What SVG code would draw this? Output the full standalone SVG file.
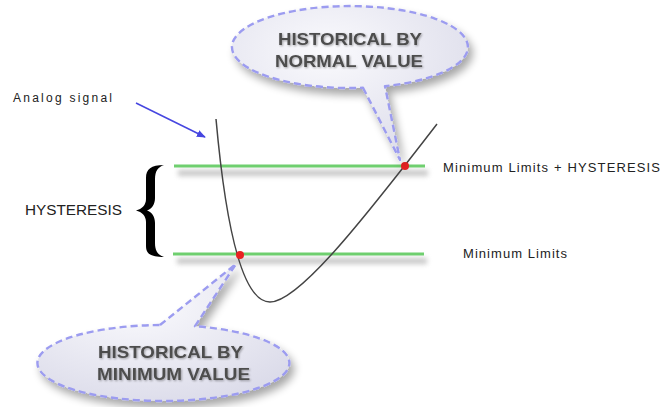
<svg xmlns="http://www.w3.org/2000/svg" width="664" height="407" viewBox="0 0 664 407">
  <style>
    .lbl { font-family: "Liberation Sans", Arial, sans-serif; fill: #222; }
    .callout-shape { fill: url(#bubbleFill); stroke: #9c9cf0; stroke-width: 2.4; stroke-dasharray: 7 4; stroke-linejoin: round; }
    .callout-text { font-family: "Liberation Sans", Arial, sans-serif; font-weight: bold; font-size: 17px; fill: #4d4d4d; }
    .limit { stroke: #6fcf6f; stroke-width: 3; fill: none; }
    .limit-shadow { fill: #9a9a9a; opacity: 0.55; }
    .dot { fill: #e82222; }
  </style>
  <defs>
    <radialGradient id="bubbleFill" cx="0.4" cy="0.3" r="0.75">
      <stop offset="0" stop-color="#fafafd"/>
      <stop offset="1" stop-color="#dcdcea"/>
    </radialGradient>
    <filter id="soft" x="-10%" y="-100%" width="120%" height="300%">
      <feGaussianBlur stdDeviation="2.5"/>
    </filter>
    <filter id="bubbleShadow" x="-20%" y="-20%" width="140%" height="150%">
      <feGaussianBlur in="SourceAlpha" stdDeviation="4"/>
      <feOffset dx="4" dy="6" result="b"/>
      <feComponentTransfer><feFuncA type="linear" slope="0.35"/></feComponentTransfer>
      <feMerge><feMergeNode/><feMergeNode in="SourceGraphic"/></feMerge>
    </filter>
    <filter id="textHalo" x="-5%" y="-30%" width="110%" height="160%">
      <feGaussianBlur in="SourceAlpha" stdDeviation="1"/>
      <feOffset dx="1" dy="1"/>
      <feComponentTransfer><feFuncA type="linear" slope="0.35"/></feComponentTransfer>
      <feMerge><feMergeNode/><feMergeNode in="SourceGraphic"/></feMerge>
    </filter>
    <marker id="arrowBlue" viewBox="0 0 10 10" refX="9" refY="5" markerWidth="6" markerHeight="6" orient="auto">
      <path d="M0,1 L10,5 L0,9 z" fill="#4646e0"/>
    </marker>
  </defs>

  <!-- limit lines with soft shadows -->
  <g id="limit-upper">
    <rect class="limit-shadow" x="178" y="170" width="250" height="6" filter="url(#soft)"/>
    <line class="limit" x1="174" y1="166" x2="425" y2="166"/>
  </g>
  <g id="limit-lower">
    <rect class="limit-shadow" x="177" y="258" width="250" height="6" filter="url(#soft)"/>
    <line class="limit" x1="173" y1="254" x2="424" y2="254"/>
  </g>

  <!-- analog signal curve -->
  <g id="signal">
    <path d="M216,119 C226,230 243,302 270,302 C298,302 360,224 437,124" fill="none" stroke="#444" stroke-width="1.5"/>
  </g>

  <!-- crossing points -->
  <g id="crossing-upper"><circle class="dot" cx="405" cy="166" r="4"/></g>
  <g id="crossing-lower"><circle class="dot" cx="240" cy="255" r="4"/></g>

  <!-- callout: normal value -->
  <g id="callout-normal" filter="url(#bubbleShadow)">
    <path class="callout-shape" d="M363,87.8 L400,160 L385,86.2 A118,41 0 1 0 363,87.8 Z"/>
    <g filter="url(#textHalo)">
      <text class="callout-text" x="278" y="45" textLength="144" lengthAdjust="spacingAndGlyphs">HISTORICAL BY</text>
      <text class="callout-text" x="275" y="67" textLength="148" lengthAdjust="spacingAndGlyphs">NORMAL VALUE</text>
    </g>
  </g>

  <!-- callout: minimum value -->
  <g id="callout-minimum" filter="url(#bubbleShadow)">
    <path class="callout-shape" d="M160,325 L236,264 L195,326.2 A126,38 0 1 1 160,325 Z"/>
    <g filter="url(#textHalo)">
      <text class="callout-text" x="98" y="358" textLength="145" lengthAdjust="spacingAndGlyphs">HISTORICAL BY</text>
      <text class="callout-text" x="97" y="380" textLength="153" lengthAdjust="spacingAndGlyphs">MINIMUM VALUE</text>
    </g>
  </g>

  <!-- hysteresis brace (filled, tapered ends) and label -->
  <g id="hysteresis">
    <path d="M164,165 C151,165 146,169 146,178 L146,199 C146,205 142,209 136,210.5 C142,212 146,216 146,222 L146,246 C146,254 151,257 164,257 C158,255 155,251 155,243 L155,223 C155,217 152,212 147,210.5 C152,209 155,204 155,198 L155,179 C155,171 158,167 164,165 Z" fill="#000"/>
    <text class="lbl" x="25" y="215" font-size="14" textLength="97" lengthAdjust="spacingAndGlyphs">HYSTERESIS</text>
  </g>

  <!-- text labels -->
  <g id="label-analog">
    <text class="lbl" x="13" y="102" font-size="12" textLength="99" lengthAdjust="spacing">Analog signal</text>
  </g>
  <g id="label-upper">
    <text class="lbl" x="443" y="172" font-size="13" textLength="217" lengthAdjust="spacing">Minimum Limits + HYSTERESIS</text>
  </g>
  <g id="label-lower">
    <text class="lbl" x="463" y="258" font-size="13" textLength="104" lengthAdjust="spacing">Minimum Limits</text>
  </g>

  <!-- connectors -->
  <g id="connectors">
    <line x1="136" y1="103" x2="205" y2="137" stroke="#4646e0" stroke-width="1.5" marker-end="url(#arrowBlue)"/>
  </g>
</svg>
